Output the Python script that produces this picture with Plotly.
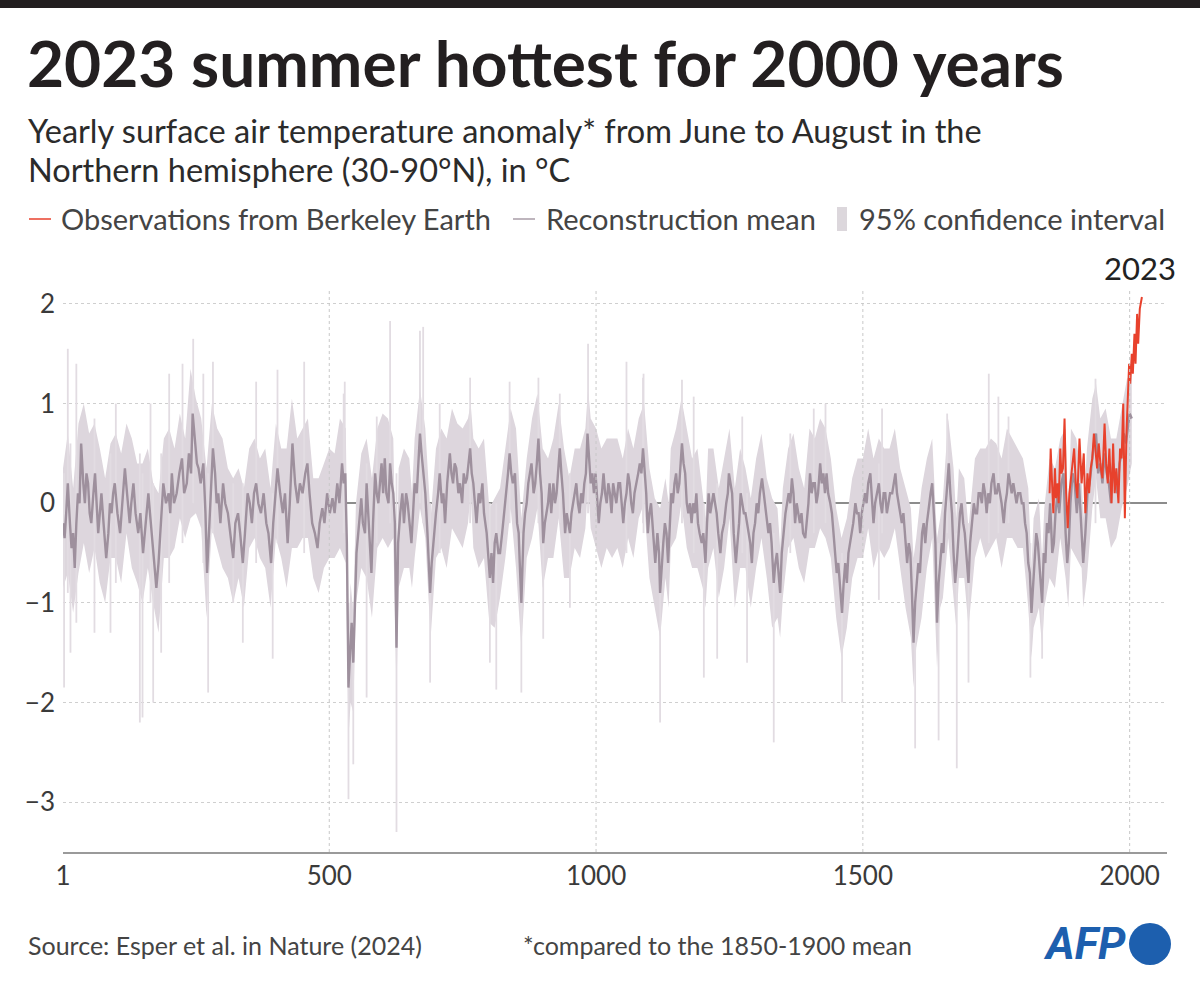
import plotly.graph_objects as go

# ---------------- DATA ----------------
rec_years = [1,4,7,10,14,17,20,23,26,29,32,35,39,42,45,48,51,54,58,61,64,67,70,73,77,82,86,89,92,95,98,103,108,112,117,121,126,129,133,137,142,146,151,156,161,164,167,171,176,180,183,186,189,194,199,202,205,209,214,219,224,228,233,237,241,244,248,252,
255,259,264,268,271,275,279,282,286,289,292,296,301,305,310,315,320,324,329,333,338,342,347,351,355,359,363,367,372,377,382,386,391,395,399,403,408,413,417,422,426,431,436,441,445,450,455,459,463,468,473,478,482,487,491,496,501,506,510,515,519,524,527,530,
533,536,539,542,545,548,551,556,560,563,567,570,574,579,582,586,589,592,595,598,601,604,607,611,614,617,620,623,626,629,633,637,640,644,647,651,654,657,660,664,667,670,673,676,680,684,689,692,696,700,704,707,711,714,717,721,726,729,732,735,738,742,745,749,752,755,758,761,764,767,770,773,776,780,783,787,790,795,798,801,804,807,810,813,817,
820,824,828,832,835,838,841,844,848,852,855,857,860,864,867,870,873,876,879,883,886,889,892,895,898,901,904,907,910,913,916,920,923,926,929,932,935,938,942,945,948,951,954,957,960,963,966,969,972,975,978,981,984,987,990,993,996,999,1002,1005,1008,1011,1014,1017,1020,1023,1026,1029,1032,1035,1038,1042,1045,1048,1051,1054,1057,1060,1063,1066,1069,1072,1076,1079,1082,1085,1088,1091,1094,1097,
1100,1103,1106,1109,1111,1115,1118,1120,1123,1126,1129,1132,1135,1138,1141,1144,1147,1150,1153,1156,1159,1161,1164,1167,1170,1173,1176,1179,1182,1185,1188,1191,1194,1198,1201,1205,1208,1211,1214,1217,1220,1223,1226,1229,1233,1236,1240,1244,1247,1249,1252,1255,1258,1262,1265,1268,1271,1274,1277,1280,1283,1286,1289,1292,1295,1298,1301,1304,1307,1311,1314,1317,1320,1323,1326,1329,1333,1336,1339,1342,1345,1348,1351,1355,1358,1361,1364,1367,1370,1373,1376,1379,
1382,1385,1388,1392,1395,1398,1401,1404,1407,1410,1413,1416,1420,1423,1426,1429,1432,1435,1439,1442,1445,1448,1451,1454,1457,1461,1464,1467,1470,1473,1476,1479,1482,1486,1489,1492,1495,1498,1501,1504,1507,1510,1514,1517,1520,1523,1526,1530,1533,1536,1539,1542,1545,1548,1551,1555,1558,1561,1564,1567,1570,1573,1576,1579,1583,1586,1589,1592,1595,1598,1601,1604,1607,1611,1614,1617,1620,1624,1627,1630,1633,1636,1639,1642,1645,1648,1651,1654,1657,1661,
1664,1667,1670,1673,1676,1679,1682,1685,1688,1691,1694,1698,1701,1704,1708,1711,1714,1717,1720,1723,1726,1729,1732,1735,1738,1741,1745,1748,1751,1754,1757,1760,1764,1767,1770,1773,1776,1779,1782,1785,1788,1791,1795,1798,1801,1804,1807,1810,1813,1816,1819,1822,1825,1828,1831,1834,1836,1839,1842,1845,1848,
1851,1855,1858,1861,1865,1868,1872,1876,1880,1883,1886,1889,1893,1897,1901,1905,1909,1913,1917,1921,1925,1929,1933,1937,1941,1945,1949,1953,1957,1961,1965,1969,1973,1977,1981,1985,1989,1993,1997,2000,2004]

rec_mean = [-0.2,-0.35,-0.1,0.2,-0.2,-0.45,-0.3,-0.65,-0.2,0.1,0.0,0.6,0.2,0.0,0.3,0.2,-0.1,-0.2,0.1,0.3,0.0,-0.3,-0.1,0.1,-0.2,-0.55,-0.3,0.0,-0.1,0.1,0.2,-0.1,-0.3,0.0,0.35,0.1,-0.2,0.0,0.2,-0.1,-0.3,-0.1,-0.5,-0.2,0.1,-0.1,-0.3,-0.5,-0.85,-0.6,-0.3,-0.1,0.2,0.0,0.1,-0.1,0.3,0.0,0.1,0.3,0.45,0.1,0.2,0.5,0.3,0.9,0.6,0.4,
0.35,0.2,0.4,-0.1,-0.7,-0.2,0.2,0.55,0.3,0.0,0.1,-0.2,0.2,0.0,-0.1,-0.3,-0.55,-0.2,-0.1,-0.3,-0.6,-0.3,0.1,0.0,-0.2,0.1,0.2,0.0,-0.1,0.1,-0.2,-0.3,-0.6,-0.2,0.1,0.35,0.1,-0.1,0.1,-0.4,0.0,0.6,0.2,0.0,0.2,0.1,0.3,0.4,0.1,-0.2,-0.3,-0.45,-0.2,-0.05,-0.2,0.1,-0.1,0.05,-0.1,0.2,0.0,0.4,0.2,0.3,
-0.4,-1.85,-1.5,-1.2,-1.6,-1.1,-0.5,-0.2,0.05,-0.2,-0.3,0.2,-0.2,-0.7,-0.2,0.3,0.1,0.0,0.2,0.4,0.1,0.45,0.1,0.0,0.4,0.2,0.1,-0.2,-1.45,-0.4,-0.1,0.1,-0.2,0.1,0.0,-0.2,-0.4,-0.1,0.2,0.1,0.4,0.7,0.5,0.3,0.1,-0.3,-0.9,-0.6,-0.3,-0.1,0.1,0.3,0.0,0.1,-0.2,0.2,0.5,0.3,0.2,0.4,0.35,0.1,0.2,0.0,0.3,0.2,0.25,0.4,0.55,0.3,0.2,0.0,-0.2,0.1,0.0,0.2,-0.1,-0.3,-0.5,-0.75,-0.5,-0.8,-0.4,-0.3,-0.5,
-0.5,-0.3,-0.1,0.1,0.3,0.5,0.3,0.2,0.3,-0.2,-0.3,-0.6,-1.0,-0.3,-0.1,0.0,0.2,0.3,0.4,0.1,0.2,0.4,0.65,0.3,0.1,-0.4,-0.2,-0.1,0.0,0.2,-0.1,0.2,0.0,0.1,0.3,0.55,0.3,0.1,-0.3,-0.1,-0.2,-0.3,-0.1,0.0,0.1,0.2,0.0,-0.1,0.1,0.0,0.2,0.3,0.7,0.4,0.2,0.3,0.1,0.3,0.0,-0.2,0.0,0.1,0.3,0.1,0.0,0.2,0.1,-0.1,0.2,0.1,0.0,0.2,0.2,0.0,-0.2,0.0,0.1,0.3,0.2,0.0,-0.1,0.1,0.2,0.3,0.4,0.3,0.55,0.3,0.1,-0.3,
-0.1,0.0,-0.2,-0.4,-0.6,-0.3,-0.5,-0.9,-0.6,-0.4,-0.2,-0.3,-0.6,-0.2,0.1,0.0,0.2,0.3,0.1,0.2,0.4,0.6,0.4,0.3,0.0,-0.1,0.0,-0.2,0.0,-0.1,0.1,-0.2,-0.3,-0.4,-0.3,-0.6,-0.2,0.1,-0.1,0.0,0.1,0.0,-0.1,-0.3,-0.5,-0.3,-0.2,0.0,0.1,0.3,0.2,0.1,-0.3,-0.6,-0.4,-0.2,0.1,0.0,-0.1,-0.1,-0.2,-0.3,-0.4,-0.6,-0.3,-0.2,0.0,-0.1,0.1,0.25,0.1,0.0,-0.2,-0.3,-0.2,-0.4,-0.8,-0.6,-0.5,-0.7,-0.9,-0.5,-0.3,-0.1,0.0,0.1,0.0,0.25,0.1,-0.2,0.0,-0.1,
-0.2,-0.1,-0.3,-0.35,-0.2,0.0,0.3,0.1,0.2,0.2,0.0,0.1,0.4,0.2,0.3,0.1,0.3,0.1,0.0,-0.1,-0.3,-0.5,-0.7,-0.6,-0.8,-1.1,-0.8,-0.6,-0.8,-0.5,-0.4,-0.3,-0.2,0.0,-0.1,-0.1,-0.3,-0.1,0.0,0.1,0.0,0.2,0.3,0.0,-0.2,0.0,0.1,0.2,0.0,-0.1,0.1,0.1,-0.1,0.0,0.1,0.1,0.2,0.3,0.1,0.0,-0.1,-0.2,-0.1,-0.3,-0.6,-0.4,-0.5,-0.9,-1.4,-1.0,-0.8,-0.6,-0.7,-0.3,-0.2,-0.4,-0.2,0.0,0.1,0.2,-0.1,-0.4,-1.2,-0.8,-0.6,-0.4,-0.5,-0.1,0.1,0.4,
0.1,-0.1,-0.5,-0.8,-0.6,-0.3,-0.1,0.0,-0.2,-0.3,-0.5,-0.8,-0.4,-0.2,0.0,-0.1,-0.1,0.1,0.1,0.0,0.2,0.1,-0.1,0.1,0.0,0.2,0.3,0.1,0.1,0.2,0.1,0.0,-0.2,0.0,0.1,0.3,0.2,0.1,0.2,0.1,0.0,0.1,0.1,0.0,0.0,-0.2,-0.3,-0.6,-0.7,-1.1,-0.8,-0.6,-0.3,-0.4,-0.6,-0.8,-1.0,-0.5,-0.6,-0.2,-0.3,
0.0,-0.5,-0.4,-0.1,0.1,-0.1,0.2,0.3,-0.3,-0.6,-0.4,0.0,0.3,0.2,-0.1,0.2,-0.2,-0.6,-0.3,0.1,0.2,0.4,0.6,0.7,0.3,0.4,0.2,0.5,0.3,0.2,0.0,0.4,0.2,0.1,0.4,0.5,0.7,0.6,0.8,0.9,0.85]

ci_years = [1,10,20,30,40,50,60,70,80,90,100,110,120,130,140,150,160,170,180,190,200,210,220,230,240,250,260,270,280,290,300,310,320,330,340,350,360,370,380,390,400,410,420,430,440,450,460,470,480,490,500,510,520,531,536,540,545,550,560,570,580,590,600,610,620,626,630,640,650,655,660,670,680,690,700,710,720,730,740,750,760,765,770,780,790,800,810,820,830,840,850,860,870,880,890,900,910,920,930,940,950,960,970,980,985,990,1000,1010,1020,1030,1040,1050,1060,1070,1080,1090,1100,1110,1120,1130,1136,1140,1150,1160,1170,1180,1190,1200,1205,1210,1220,1230,1240,1250,1260,1270,1280,1290,1300,1310,1320,1330,1340,1345,1350,1360,1370,1380,1390,1400,1410,1420,1430,1440,1450,1460,1470,1480,1490,1500,1510,1520,1530,1540,1550,1560,1570,1580,1590,1595,1600,1610,1620,1630,1639,1645,1650,1660,1670,1675,1680,1690,1698,1710,1720,1730,1740,1750,1760,1770,1780,1790,1800,1810,1816,1820,1830,1836,1840,1850,1860,1870,1880,1885,1890,1900,1910,1913,1920,1930,1937,1945,1955,1965,1975,1985,1995,2004]
ci_lo = [-0.85,-0.7,-1.1,-0.7,-0.4,-0.7,-0.45,-0.8,-1.0,-0.55,-0.55,-0.8,-0.3,-0.65,-0.8,-1.0,-0.65,-1.0,-1.3,-0.55,-0.55,-0.45,-0.15,-0.35,-0.15,-0.1,-0.25,-1.15,-0.25,-0.45,-0.65,-0.75,-1.0,-0.75,-1.05,-0.45,-0.35,-0.55,-0.65,-1.05,-0.35,-0.55,-0.85,-0.45,-0.45,-0.35,-0.35,-0.75,-0.9,-0.65,-0.55,-0.55,-0.45,-0.6,-2.35,-2.0,-2.1,-1.0,-0.65,-0.75,-1.15,-0.45,-0.35,-0.45,-0.35,-1.9,-0.85,-0.65,-0.65,-0.85,-0.55,-0.05,-0.35,-1.35,-0.55,-0.45,-0.65,-0.25,-0.35,-0.45,-0.2,0.1,-0.45,-0.65,-0.55,-1.2,-1.25,-0.95,-0.55,-0.05,-0.65,-1.45,-0.55,-0.35,-0.05,-0.85,-0.55,-0.55,-0.15,-0.75,-0.75,-0.45,-0.55,-0.25,0.2,-0.25,-0.45,-0.65,-0.45,-0.55,-0.45,-0.65,-0.35,-0.55,-0.15,0.0,-0.75,-1.05,-1.35,-0.75,-1.05,-0.45,-0.35,0.0,-0.45,-0.65,-0.65,-0.85,-1.05,-0.65,-0.45,-0.95,-0.65,-0.15,-1.05,-0.65,-0.65,-1.05,-0.65,-0.35,-0.75,-1.25,-1.15,-1.35,-0.95,-0.45,-0.35,-0.65,-0.8,-0.45,-0.45,-0.25,-0.35,-0.55,-1.15,-1.55,-1.25,-0.75,-0.55,-0.55,-0.25,-0.65,-0.45,-0.55,-0.45,-0.25,-0.65,-1.05,-1.35,-1.85,-1.45,-1.15,-0.65,-0.35,-1.65,-1.05,-0.95,-0.35,-0.95,-1.25,-0.75,-0.75,-1.25,-0.55,-0.35,-0.55,-0.45,-0.35,-0.65,-0.35,-0.35,-0.45,-0.45,-1.05,-1.55,-1.25,-1.05,-1.45,-1.05,-0.75,-0.85,-0.35,-0.75,-1.05,-0.45,-0.55,-0.65,-1.05,-0.75,-0.05,0.25,-0.15,-0.15,-0.45,-0.35,-0.05,0.15,0.4]
ci_up = [0.35,0.7,0.15,0.8,1.0,0.7,0.8,0.55,0.25,0.6,0.7,0.5,0.8,0.65,0.4,0.4,0.55,0.2,0.1,0.65,0.75,0.55,0.9,0.65,1.35,1.05,0.85,0.35,1.0,0.75,0.65,0.35,0.25,0.35,0.15,0.55,0.65,0.45,0.55,0.15,0.8,0.55,0.55,1.05,0.65,0.75,0.85,0.25,0.25,0.4,0.55,0.5,0.85,0.75,-1.3,-0.8,-1.1,0.0,0.5,0.65,0.25,0.75,0.9,0.85,0.65,-1.0,0.35,0.55,0.45,0.1,0.65,1.15,0.75,-0.15,0.55,0.75,0.65,0.95,0.8,0.75,0.85,1.0,0.65,0.55,0.65,-0.05,0.05,0.15,0.55,0.95,0.75,-0.15,0.45,0.85,1.1,0.55,0.45,0.65,1.0,0.55,0.25,0.55,0.55,0.75,1.15,0.85,0.75,0.55,0.65,0.65,0.65,0.45,0.75,0.55,0.85,1.0,0.35,0.05,-0.05,0.25,0.0,0.55,0.75,1.05,0.75,0.45,0.55,0.05,-0.15,0.55,0.55,0.15,0.45,0.75,0.15,0.55,0.35,0.05,0.45,0.7,0.25,0.05,-0.05,-0.45,0.15,0.55,0.7,0.35,0.15,0.75,0.65,0.85,0.75,0.45,-0.05,-0.35,-0.15,0.25,0.45,0.45,0.75,0.45,0.65,0.55,0.55,0.75,0.35,0.15,-0.05,-0.55,-0.35,0.15,0.45,0.65,-0.35,-0.15,0.05,0.85,0.35,-0.15,0.35,0.25,-0.25,0.45,0.55,0.55,0.65,0.6,0.45,0.75,0.65,0.55,0.45,0.15,-0.65,-0.15,0.05,-0.55,-0.05,0.45,0.35,0.65,0.75,-0.15,0.75,0.65,0.25,-0.15,0.55,1.05,1.2,0.85,0.95,0.65,0.65,0.95,1.25,1.3]

spike_years = [3,10,15,26,60,90,100,145,150,165,170,185,200,225,245,264,273,282,320,338,363,394,403,453,527,529,536,545,570,589,614,626,670,676,689,707,764,801,813,838,860,892,901,932,951,985,1057,1088,1089,1120,1161,1183,1202,1227,1274,1283,1333,1364,1408,1430,1461,1530,1536,1598,1642,1658,1676,1698,1736,1754,1773,1814,1836,1936]
spike_lo = [-1.85,-0.9,-1.5,-1.2,-1.3,-1.3,-0.8,-2.2,-2.15,-1.0,-2.0,-1.5,-0.8,-0.4,0.0,-0.6,-1.9,-0.3,-1.0,-1.4,-0.6,-1.56,-0.4,-0.5,-0.3,0.0,-2.97,-2.62,-1.95,-0.4,-0.2,-3.3,0.0,-0.2,-1.8,-0.5,-0.2,-1.6,-1.87,-0.2,-1.9,-0.2,-1.36,-0.2,-1.05,-0.1,-0.5,-0.2,-0.3,-2.2,-0.2,-0.5,-1.75,-1.56,-0.5,-1.6,-2.4,-0.5,-0.3,-0.2,-2.0,-0.97,-0.3,-2.46,-2.38,-0.3,-2.66,-1.8,-0.4,-0.3,-0.2,-1.75,-1.56,-0.2]
spike_hi = [0.3,1.55,0.6,1.4,0.85,0.5,1.0,0.5,0.3,1.0,0.2,0.5,1.3,1.4,1.65,1.3,0.3,1.42,0.2,0.2,1.22,0.1,1.34,1.42,1.1,1.22,-1.0,-1.0,0.4,0.87,1.83,0.3,1.73,1.77,0.0,1.0,1.26,0.0,0.0,1.22,-0.3,1.26,0.2,1.1,0.3,1.6,1.42,1.26,1.3,-0.4,1.24,1.07,0.0,0.2,0.87,0.1,-0.3,0.7,0.95,1.0,-0.5,0.4,0.95,-0.6,-0.4,0.9,-0.3,-0.2,1.3,1.07,0.87,-0.4,-0.5,1.25]

obs_years = [1850,1852,1855,1857,1860,1862,1865,1867,1870,1872,1875,1878,1881,1884,1887,1891,1896,1899,1902,1906,1910,1914,1917,1921,1924,1927,1930,1933,1936,1939,1942,1946,1949,1953,1956,1959,1962,1966,1969,1972,1975,1979,1982,1985,1988,1991,1994,1996,1999,2001,2004,2006,2009,2011,2014,2016,2019,2023]
obs_vals = [0.1,0.55,0.15,-0.1,0.35,0.05,0.2,0.0,0.55,0.3,0.35,0.85,0.1,-0.25,0.1,0.3,0.55,0.2,0.05,0.65,0.2,0.5,-0.1,0.3,0.1,0.35,0.45,0.7,0.5,0.35,0.6,0.35,0.25,0.8,0.4,0.2,0.55,0.0,0.6,0.1,0.35,0.0,0.55,0.45,1.0,-0.15,0.7,1.0,1.4,1.2,1.5,1.3,1.7,1.4,1.9,1.6,1.95,2.07]

x_tickvals = [1, 500, 1000, 1500, 2000]
x_ticktext = ["1", "500", "1000", "1500", "2000"]
y_tickvals = [-3, -2, -1, 0, 1, 2]
y_ticktext = ["\u22123", "\u22122", "\u22121", "0", "1", "2"]

TITLE = "2023 summer hottest for 2000 years"
SUBTITLE_1 = "Yearly surface air temperature anomaly* from June to August in the"
SUBTITLE_2 = "Northern hemisphere (30-90°N), in °C"
SOURCE = "Source: Esper et al. in Nature (2024)"
NOTE = "*compared to the 1850-1900 mean"

# ---------------- STYLE ----------------
W, H = 1200, 987
L, R, T, B = 63, 33, 289, 135
PW, PH = W - L - R, H - T - B
FONT = "Lato"
RED = "#e8412c"
MEAN_C = "#9e909d"
BAND_C = "#ddd6dd"
SPIKE_C = "#e2dce2"
TXT = "#3a3a3a"


def px(x):
    return (x - L) / PW


def py(y):
    return (H - B - y) / PH


fig = go.Figure()

band_x = ci_years + ci_years[::-1]
band_y = ci_up + ci_lo[::-1]
fig.add_trace(go.Scatter(x=band_x, y=band_y, fill="toself", fillcolor=BAND_C,
                         line=dict(width=0), mode="lines", hoverinfo="skip",
                         showlegend=False))

sx, sy = [], []
for yr, lo, hi in zip(spike_years, spike_lo, spike_hi):
    sx += [yr, yr, None]
    sy += [lo, hi, None]
fig.add_trace(go.Scatter(x=sx, y=sy, mode="lines",
                         line=dict(color=SPIKE_C, width=1.8),
                         hoverinfo="skip", showlegend=False))

fig.add_trace(go.Scatter(x=rec_years, y=rec_mean, mode="lines",
                         line=dict(color=MEAN_C, width=2.4),
                         name="Reconstruction mean", showlegend=False))

fig.add_trace(go.Scatter(x=obs_years, y=obs_vals, mode="lines",
                         line=dict(color=RED, width=2),
                         name="Observations from Berkeley Earth", showlegend=False))

shapes = []
for v in x_tickvals[1:]:
    shapes.append(dict(type="line", xref="x", yref="paper", x0=v, x1=v, y0=0, y1=1,
                       line=dict(color="#c8c8c8", width=1, dash="dot"), layer="above"))
shapes.append(dict(type="rect", xref="paper", yref="paper", x0=px(0), x1=px(W),
                   y0=py(8), y1=py(0), fillcolor="#231f20", line=dict(width=0)))
shapes.append(dict(type="line", xref="paper", yref="paper", x0=px(29), x1=px(51),
                   y0=py(219), y1=py(219), line=dict(color=RED, width=1.5)))
shapes.append(dict(type="line", xref="paper", yref="paper", x0=px(513), x1=px(535),
                   y0=py(219), y1=py(219), line=dict(color="#a89ca7", width=1.5)))
shapes.append(dict(type="rect", xref="paper", yref="paper", x0=px(837), x1=px(847),
                   y0=py(231), y1=py(207), fillcolor="#dcd7dc", line=dict(width=0)))
shapes.append(dict(type="circle", xref="paper", yref="paper", x0=px(1129), x1=px(1171),
                   y0=py(965), y1=py(923), fillcolor="#1d5fae", line=dict(width=0)))

ann = []
ann.append(dict(text=f"<b>{TITLE}</b>", x=px(25), y=py(22), xref="paper", yref="paper",
                xanchor="left", yanchor="top", showarrow=False,
                font=dict(family=FONT, size=64, color="#231f20")))
ann.append(dict(text=SUBTITLE_1, x=px(26), y=py(109), xref="paper", yref="paper",
                xanchor="left", yanchor="top", showarrow=False, align="left",
                font=dict(family=FONT, size=32.5, color="#2b2b2b")))
ann.append(dict(text=SUBTITLE_2, x=px(26), y=py(148), xref="paper", yref="paper",
                xanchor="left", yanchor="top", showarrow=False, align="left",
                font=dict(family=FONT, size=32.5, color="#2b2b2b")))
for xx, txt in [(59, "Observations from Berkeley Earth"), (544, "Reconstruction mean"),
                (857, "95% confidence interval")]:
    ann.append(dict(text=txt, x=px(xx), y=py(218), xref="paper", yref="paper",
                    xanchor="left", yanchor="middle", showarrow=False,
                    font=dict(family=FONT, size=29, color="#444444")))
ann.append(dict(text="2023", x=2020, y=py(289), xref="x", yref="paper",
                xanchor="center", yanchor="bottom", showarrow=False,
                font=dict(family=FONT, size=31, color="#222222")))
ann.append(dict(text=SOURCE, x=px(26), y=py(945), xref="paper", yref="paper",
                xanchor="left", yanchor="middle", showarrow=False,
                font=dict(family=FONT, size=25, color="#444444")))
ann.append(dict(text=NOTE, x=px(521), y=py(945), xref="paper", yref="paper",
                xanchor="left", yanchor="middle", showarrow=False,
                font=dict(family=FONT, size=25, color="#444444")))
ann.append(dict(text="<b><i>AFP</i></b>", x=px(1128), y=py(944), xref="paper", yref="paper",
                xanchor="right", yanchor="middle", showarrow=False,
                font=dict(family="Roboto", size=44, color="#1d5fae")))

fig.update_layout(
    width=W, height=H,
    margin=dict(l=L, r=R, t=T, b=B, pad=0),
    paper_bgcolor="white", plot_bgcolor="white",
    shapes=shapes, annotations=ann, showlegend=False,
    font=dict(family=FONT),
    xaxis=dict(range=[1, 2070], tickvals=x_tickvals, ticktext=x_ticktext,
               showgrid=False, zeroline=False, showline=True,
               linecolor="#9a9a9a", linewidth=1.5, ticks="",
               tickfont=dict(family=FONT, size=26, color=TXT)),
    yaxis=dict(range=[-3.5, 2.15], tickvals=y_tickvals, ticktext=y_ticktext,
               showgrid=True, gridcolor="#cfcfcf", griddash="dot", gridwidth=1,
               zeroline=True, zerolinecolor="#8c8c8c", zerolinewidth=1.5,
               showline=False, ticks="", ticklabelstandoff=7,
               tickfont=dict(family=FONT, size=26, color=TXT)),
)

fig.write_html("out.html", config={"displayModeBar": False},
               post_script="document.body.style.margin='0';")
